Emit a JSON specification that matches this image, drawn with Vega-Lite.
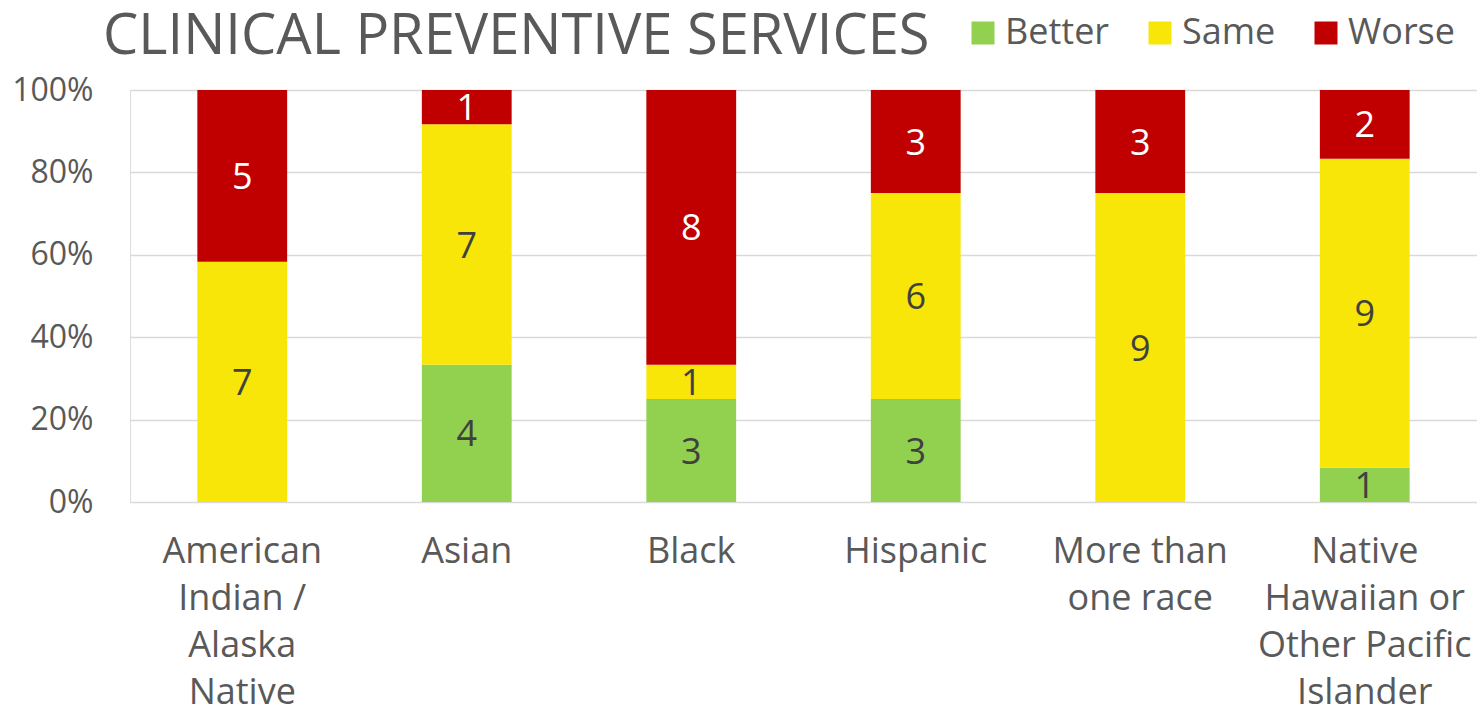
{
  "$schema": "https://vega.github.io/schema/vega-lite/v6.json",
  "width": 1347,
  "height": 412,
  "autosize": "none",
  "padding": {"left": 130, "top": 90, "right": 0, "bottom": 207},
  "background": "white",
  "title": {
    "text": "CLINICAL PREVENTIVE SERVICES",
    "anchor": "start",
    "frame": "group",
    "dx": -27,
    "offset": -51,
    "font": "Open Sans",
    "fontSize": 56,
    "fontWeight": "normal",
    "color": "#595959"
  },
  "data": {
    "values": [
      {"race": "American|Indian /|Alaska|Native", "status": "Same", "count": 7},
      {"race": "American|Indian /|Alaska|Native", "status": "Worse", "count": 5},
      {"race": "Asian", "status": "Better", "count": 4},
      {"race": "Asian", "status": "Same", "count": 7},
      {"race": "Asian", "status": "Worse", "count": 1},
      {"race": "Black", "status": "Better", "count": 3},
      {"race": "Black", "status": "Same", "count": 1},
      {"race": "Black", "status": "Worse", "count": 8},
      {"race": "Hispanic", "status": "Better", "count": 3},
      {"race": "Hispanic", "status": "Same", "count": 6},
      {"race": "Hispanic", "status": "Worse", "count": 3},
      {"race": "More than|one race", "status": "Same", "count": 9},
      {"race": "More than|one race", "status": "Worse", "count": 3},
      {"race": "Native|Hawaiian or|Other Pacific|Islander", "status": "Better", "count": 1},
      {"race": "Native|Hawaiian or|Other Pacific|Islander", "status": "Same", "count": 9},
      {"race": "Native|Hawaiian or|Other Pacific|Islander", "status": "Worse", "count": 2}
    ]
  },
  "encoding": {
    "x": {
      "field": "race",
      "type": "nominal",
      "sort": null,
      "scale": {"paddingInner": 0.6, "paddingOuter": 0.3},
      "axis": {
        "title": null,
        "labelAngle": 0,
        "labelExpr": "split(datum.label, '|')",
        "labelFont": "Open Sans",
        "labelFontSize": 36,
        "labelColor": "#595959",
        "labelLineHeight": 47,
        "labelPadding": 32,
        "domain": false,
        "ticks": false,
        "labelLimit": 400
      }
    }
  },
  "layer": [
    {
      "mark": {"type": "bar"},
      "encoding": {
        "y": {
          "field": "count",
          "type": "quantitative",
          "stack": "normalize",
          "scale": {"domain": [0, 1]},
          "axis": {
            "title": null,
            "values": [0, 0.2, 0.4, 0.6, 0.8, 1],
            "format": ".0%",
            "labelFont": "Open Sans",
            "labelFontSize": 32,
            "labelColor": "#595959",
            "labelPadding": 37,
            "domain": false,
            "ticks": false,
            "grid": true,
            "gridColor": "#D9D9D9",
            "gridWidth": 1.5
          }
        },
        "color": {
          "field": "status",
          "type": "nominal",
          "scale": {"domain": ["Better", "Same", "Worse"], "range": ["#92D050", "#F7E608", "#C00000"]},
          "legend": {
            "title": null,
            "orient": "none",
            "direction": "horizontal",
            "legendX": 835,
            "legendY": -75,
            "symbolType": "square",
            "symbolSize": 529,
            "symbolStrokeWidth": 0,
            "symbolOpacity": 1,
            "labelFont": "Open Sans",
            "labelFontSize": 36,
            "labelColor": "#595959",
            "labelOffset": 4,
            "columnPadding": 32,
            "labelLimit": 200
          }
        },
        "order": {"field": "status", "sort": "ascending"}
      }
    },
    {
      "mark": {"type": "text", "font": "Open Sans", "fontSize": 36, "baseline": "middle", "dy": 2},
      "encoding": {
        "y": {"field": "count", "type": "quantitative", "stack": "normalize", "bandPosition": 0.5},
        "detail": {"field": "status"},
        "order": {"field": "status", "sort": "ascending"},
        "text": {"field": "count", "type": "quantitative"},
        "color": {
          "condition": {"test": "datum.status === 'Worse'", "value": "white"},
          "value": "#404040"
        }
      }
    }
  ]
}
